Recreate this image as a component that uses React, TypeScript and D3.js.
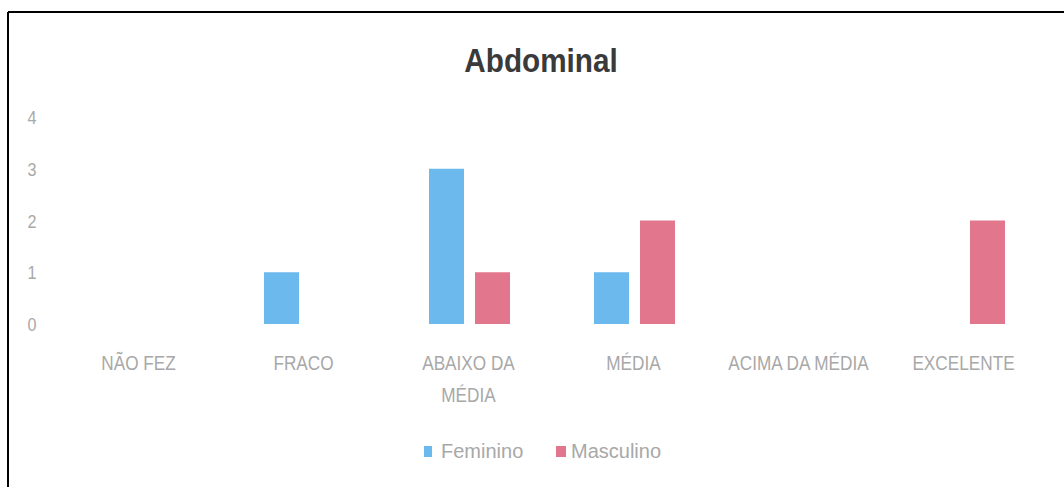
import React from "react";
import * as d3 from "d3";

const categories = ["NÃO FEZ", "FRACO", "ABAIXO DA MÉDIA", "MÉDIA", "ACIMA DA MÉDIA", "EXCELENTE"];
const categoryLines = [["NÃO FEZ"], ["FRACO"], ["ABAIXO DA", "MÉDIA"], ["MÉDIA"], ["ACIMA DA MÉDIA"], ["EXCELENTE"]];
const seriesNames = ["Feminino", "Masculino"];
const feminino = [0, 1, 3, 1, 0, 0];
const masculino = [0, 0, 1, 2, 0, 2];
const yTicks = [0, 1, 2, 3, 4];
const colors = ["#6cb9ee", "#e2768d"];

const W = 1064;
const H = 487;

export default function App() {
  const x0 = d3.scaleBand<string>().domain(categories).range([57, 1047]).padding(0);
  const x1 = d3
    .scaleBand<string>()
    .domain(seriesNames)
    .range([0, x0.bandwidth()])
    .paddingInner(0.239)
    .paddingOuter(0.913);
  const y = d3.scaleLinear().domain([0, 4]).range([324, 117]);
  const values = [feminino, masculino];
  const font = "'Liberation Sans', Arial, sans-serif";
  const textColor = "#a8a8a8";

  return (
    <svg width={W} height={H} style={{ position: "absolute", left: 0, top: 0, background: "#fff" }}>
      <rect x={0} y={0} width={W} height={H} fill="#fff" />
      <line x1={8} y1={12} x2={W} y2={12} stroke="#000" strokeWidth={2} />
      <line x1={8} y1={12} x2={8} y2={H} stroke="#000" strokeWidth={2} />
      <text
        transform={`translate(541,72) scale(0.9,1)`}
        textAnchor="middle"
        fontFamily={font}
        fontWeight="bold"
        fontSize={33}
        fill="#3a3a3a"
      >
        Abdominal
      </text>
      {yTicks.map((t) => (
        <text
          key={t}
          transform={`translate(32,${y(t) + 7}) scale(0.85,1)`}
          textAnchor="middle"
          fontFamily={font}
          fontSize={19}
          fill={textColor}
        >
          {t}
        </text>
      ))}
      {categories.map((c, i) => (
        <g key={c}>
          {values.map((vals, s) =>
            vals[i] > 0 ? (
              <rect
                key={s}
                x={(x0(c) ?? 0) + (x1(seriesNames[s]) ?? 0)}
                y={y(vals[i])}
                width={x1.bandwidth()}
                height={y(0) - y(vals[i])}
                fill={colors[s]}
              />
            ) : null
          )}
          {categoryLines[i].map((ln, k) => (
            <text
              key={k}
              transform={`translate(${(x0(c) ?? 0) + x0.bandwidth() / 2 - 1},${370 + k * 32}) scale(0.86,1)`}
              textAnchor="middle"
              fontFamily={font}
              fontSize={20}
              fill={textColor}
            >
              {ln}
            </text>
          ))}
        </g>
      ))}
      <g>
        <rect x={424} y={446} width={8} height={11} fill={colors[0]} />
        <text x={441} y={458} fontFamily={font} fontSize={20} fill={textColor}>
          {seriesNames[0]}
        </text>
        <rect x={556} y={446} width={10} height={11} fill={colors[1]} />
        <text x={571} y={458} fontFamily={font} fontSize={20} fill={textColor}>
          {seriesNames[1]}
        </text>
      </g>
    </svg>
  );
}
